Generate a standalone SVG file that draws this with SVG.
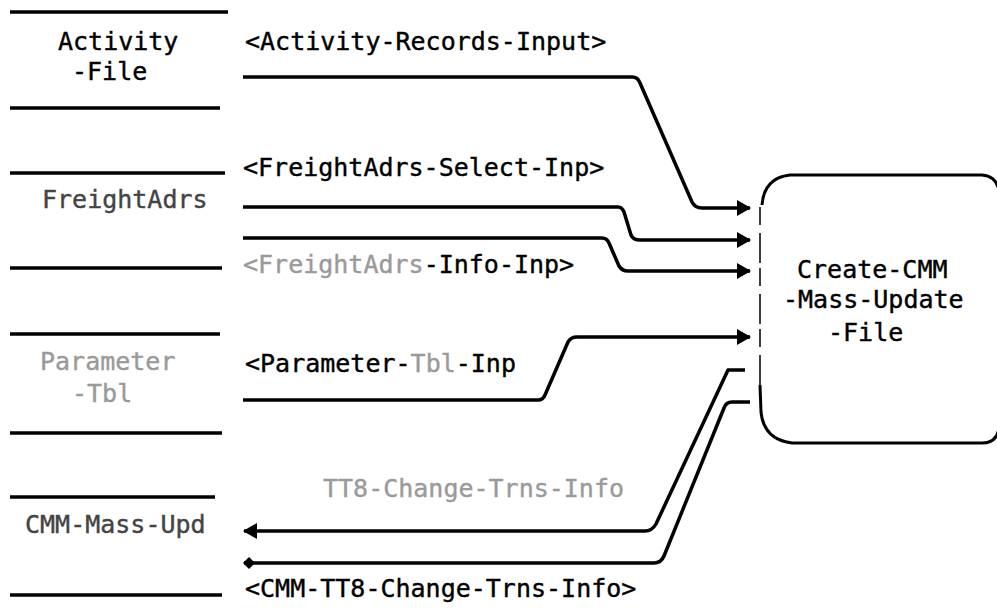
<svg xmlns="http://www.w3.org/2000/svg" width="997" height="609" viewBox="0 0 997 609">
<style>
text{font-family:"DejaVu Sans Mono","Liberation Mono",monospace;font-size:25px;fill:#000;stroke:#000;stroke-width:0.4}
.faint{fill:#9a9a9a;stroke:#9a9a9a}
.mid{fill:#444;stroke:#444}
.store{stroke:#000;stroke-width:3.5;fill:none}
.flow{stroke:#000;stroke-width:3.5;fill:none;stroke-linejoin:round}
.box{stroke:#000;stroke-width:3;fill:none}
</style>
<defs>
<marker id="arr" viewBox="0 0 14 16" refX="13" refY="8" markerWidth="14" markerHeight="16" markerUnits="userSpaceOnUse" orient="auto">
<path d="M0,0 L14,8 L0,16 Z" fill="#000"/>
</marker>
<marker id="arrs" viewBox="0 0 12 12" refX="11" refY="6" markerWidth="12" markerHeight="12" markerUnits="userSpaceOnUse" orient="auto">
<path d="M0,6 L6,0 L12,6 L6,12 Z" fill="#000"/>
</marker>
</defs>

<g id="store-activity-file">
<line class="store" x1="10" y1="12" x2="228" y2="12"/>
<line class="store" x1="10" y1="108" x2="220" y2="108"/>
<text x="58" y="50">Activity</text>
<text x="72" y="80">-File</text>
</g>

<g id="store-freightadrs">
<line class="store" x1="10" y1="173" x2="225" y2="173"/>
<line class="store" x1="10" y1="268" x2="222" y2="268"/>
<text x="42" y="208" class="mid">FreightAdrs</text>
</g>

<g id="store-parameter-tbl">
<line class="store" x1="10" y1="334" x2="220" y2="334"/>
<line class="store" x1="10" y1="433" x2="222" y2="433"/>
<text x="40" y="370" class="faint">Parameter</text>
<text x="72" y="402" class="faint">-Tbl</text>
</g>

<g id="store-cmm-mass-upd">
<line class="store" x1="10" y1="497" x2="215" y2="497"/>
<line class="store" x1="10" y1="595" x2="222" y2="595"/>
<text x="25" y="533" class="mid">CMM-Mass-Upd</text>
</g>

<g id="process-create-cmm">
<path class="box" d="M762,205 Q764,178 790,175 L982,175 Q996,176 999,190 L999,428 Q997,443 982,443 L792,443 Q764,440 761,412 L760,385"/>
<line x1="760" y1="207" x2="760" y2="385" stroke="#000" stroke-width="1.5" stroke-dasharray="18,8,30,5"/>
<text x="797" y="278">Create-CMM</text>
<text x="783" y="308">-Mass-Update</text>
<text x="828" y="341">-File</text>
</g>

<g id="connectors">
<path class="flow" d="M243,77 L632,77 Q638,77 640,83 L692,202 Q695,208 702,208 L750,208" marker-end="url(#arr)"/>
<path class="flow" d="M243,207 L618,207 Q622,207 624,212 L631,235 Q633,240 640,240 L750,240" marker-end="url(#arr)"/>
<path class="flow" d="M243,238 L602,238 Q607,238 609,243 L619,266 Q622,271 628,271 L750,271" marker-end="url(#arr)"/>
<path class="flow" d="M243,400 L538,400 Q543,400 545,395 L568,342 Q571,337 577,337 L750,337" marker-end="url(#arr)"/>
<path class="flow" d="M745,370 L728,370 L656,524 Q652,531 645,531 L244,531" marker-end="url(#arr)" stroke-width="3"/>
<path class="flow" d="M750,402 L732,402 Q726,402 724,408 L664,556 Q661,563 654,563 L244,563" marker-end="url(#arrs)" stroke-width="3"/>
<text x="245" y="50">&lt;Activity-Records-Input&gt;</text>
<text x="243" y="176">&lt;FreightAdrs-Select-Inp&gt;</text>
<text x="243" y="273"><tspan class="faint">&lt;FreightAdrs</tspan>-Info-Inp&gt;</text>
<text x="245" y="372">&lt;Parameter-<tspan class="faint">Tbl</tspan>-Inp</text>
<text x="323" y="497" class="faint">TT8-Change-Trns-Info</text>
<text x="245" y="597">&lt;CMM-TT8-Change-Trns-Info&gt;</text>
</g>
</svg>
